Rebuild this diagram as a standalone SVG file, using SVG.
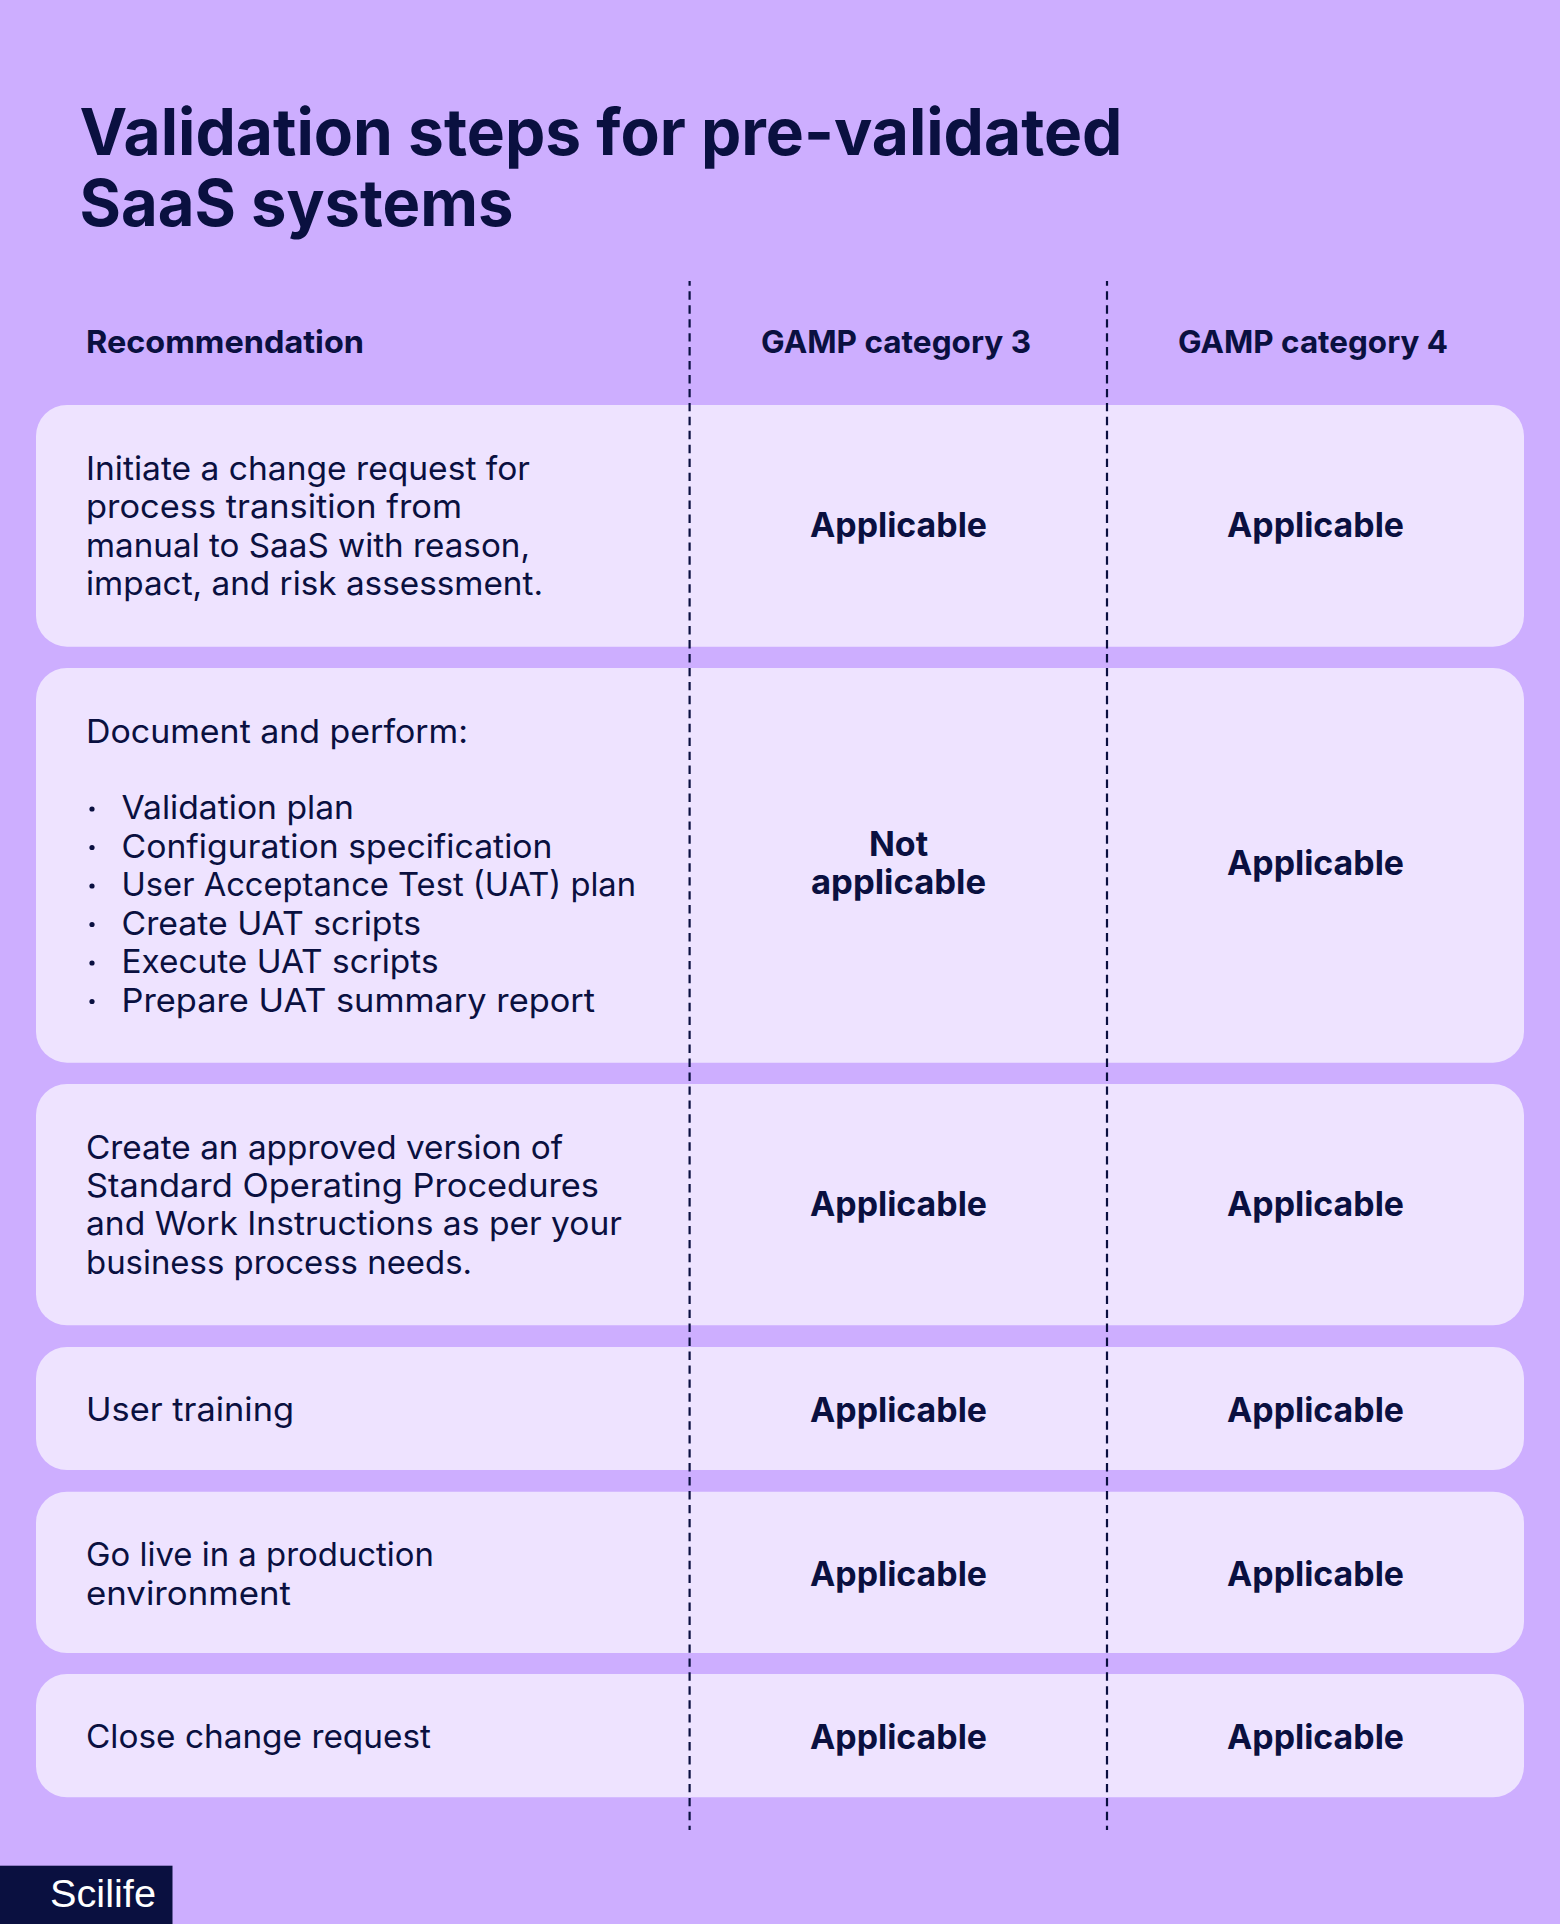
<svg xmlns="http://www.w3.org/2000/svg" width="1560" height="1924" viewBox="0 0 1560 1924">
<style>
text{font-family:"Inter","Liberation Sans",sans-serif;fill:#0a1040}
.t{font-size:65px;font-weight:700}
.h{font-size:31.5px;font-weight:700}
.b{font-size:33px;font-weight:400}
.a{font-size:34px;font-weight:700}
.card{fill:#eee3ff}
.dot{fill:#0a1040}
.div{stroke:#0a1040;stroke-width:2.2;stroke-dasharray:8.4 5.55;stroke-dashoffset:3.65;fill:none}
</style>
<rect width="1560" height="1924" fill="#cdaeff"/>
<g id="title">
<text class="t"><tspan x="79.5" y="155" textLength="1043" lengthAdjust="spacingAndGlyphs">Validation steps for pre-validated</tspan><tspan x="79.5" y="226" textLength="434" lengthAdjust="spacingAndGlyphs">SaaS systems</tspan></text>
</g>
<g id="header">
<text class="h" x="86" y="353" textLength="278" lengthAdjust="spacingAndGlyphs">Recommendation</text>
<text class="h" x="761" y="353" textLength="270" lengthAdjust="spacingAndGlyphs">GAMP category 3</text>
<text class="h" x="1178" y="353" textLength="270" lengthAdjust="spacingAndGlyphs">GAMP category 4</text>
</g>
<g id="row1">
<rect class="card" x="36" y="405" width="1488" height="241.7" rx="31"/>
<text class="b" x="86" y="480" textLength="444" lengthAdjust="spacingAndGlyphs">Initiate a change request for</text>
<text class="b" x="86" y="518.3" textLength="376" lengthAdjust="spacingAndGlyphs">process transition from</text>
<text class="b" x="86" y="556.5" textLength="444" lengthAdjust="spacingAndGlyphs">manual to SaaS with reason,</text>
<text class="b" x="86" y="594.7" textLength="457" lengthAdjust="spacingAndGlyphs">impact, and risk assessment.</text>
<text class="a" x="810" y="537" textLength="177" lengthAdjust="spacingAndGlyphs">Applicable</text>
<text class="a" x="1227" y="537" textLength="177" lengthAdjust="spacingAndGlyphs">Applicable</text>
</g>
<g id="row2">
<rect class="card" x="36" y="668" width="1488" height="394.7" rx="31"/>
<text class="b" x="86" y="742.7" textLength="382" lengthAdjust="spacingAndGlyphs">Document and perform:</text>
<circle class="dot" cx="92" cy="809" r="2.6"/>
<circle class="dot" cx="92" cy="847.5" r="2.6"/>
<circle class="dot" cx="92" cy="886" r="2.6"/>
<circle class="dot" cx="92" cy="924.5" r="2.6"/>
<circle class="dot" cx="92" cy="963" r="2.6"/>
<circle class="dot" cx="92" cy="1001.5" r="2.6"/>
<text class="b" x="121.5" y="819.3" textLength="232.5" lengthAdjust="spacingAndGlyphs">Validation plan</text>
<text class="b" x="121.5" y="857.7" textLength="431" lengthAdjust="spacingAndGlyphs">Configuration specification</text>
<text class="b" x="121.5" y="896" textLength="514.5" lengthAdjust="spacingAndGlyphs">User Acceptance Test (UAT) plan</text>
<text class="b" x="121.5" y="934.5" textLength="299.5" lengthAdjust="spacingAndGlyphs">Create UAT scripts</text>
<text class="b" x="121.5" y="973" textLength="317" lengthAdjust="spacingAndGlyphs">Execute UAT scripts</text>
<text class="b" x="121.5" y="1011.5" textLength="473.5" lengthAdjust="spacingAndGlyphs">Prepare UAT summary report</text>
<text class="a" x="898.5" y="855.5" text-anchor="middle">Not</text>
<text class="a" x="811" y="894" textLength="175" lengthAdjust="spacingAndGlyphs">applicable</text>
<text class="a" x="1227" y="875" textLength="177" lengthAdjust="spacingAndGlyphs">Applicable</text>
</g>
<g id="row3">
<rect class="card" x="36" y="1084" width="1488" height="241.3" rx="31"/>
<text class="b" x="86" y="1158.8" textLength="477" lengthAdjust="spacingAndGlyphs">Create an approved version of</text>
<text class="b" x="86" y="1197" textLength="513" lengthAdjust="spacingAndGlyphs">Standard Operating Procedures</text>
<text class="b" x="86" y="1235.3" textLength="536" lengthAdjust="spacingAndGlyphs">and Work Instructions as per your</text>
<text class="b" x="86" y="1273.6" textLength="386" lengthAdjust="spacingAndGlyphs">business process needs.</text>
<text class="a" x="810" y="1216" textLength="177" lengthAdjust="spacingAndGlyphs">Applicable</text>
<text class="a" x="1227" y="1216" textLength="177" lengthAdjust="spacingAndGlyphs">Applicable</text>
</g>
<g id="row4">
<rect class="card" x="36" y="1347" width="1488" height="123" rx="31"/>
<text class="b" x="86" y="1421.3" textLength="208" lengthAdjust="spacingAndGlyphs">User training</text>
<text class="a" x="810" y="1422" textLength="177" lengthAdjust="spacingAndGlyphs">Applicable</text>
<text class="a" x="1227" y="1422" textLength="177" lengthAdjust="spacingAndGlyphs">Applicable</text>
</g>
<g id="row5">
<rect class="card" x="36" y="1491.7" width="1488" height="161.3" rx="31"/>
<text class="b" x="86" y="1566.4" textLength="348" lengthAdjust="spacingAndGlyphs">Go live in a production</text>
<text class="b" x="86" y="1604.6" textLength="205" lengthAdjust="spacingAndGlyphs">environment</text>
<text class="a" x="810" y="1586" textLength="177" lengthAdjust="spacingAndGlyphs">Applicable</text>
<text class="a" x="1227" y="1586" textLength="177" lengthAdjust="spacingAndGlyphs">Applicable</text>
</g>
<g id="row6">
<rect class="card" x="36" y="1674" width="1488" height="123.3" rx="31"/>
<text class="b" x="86" y="1748" textLength="345" lengthAdjust="spacingAndGlyphs">Close change request</text>
<text class="a" x="810" y="1749" textLength="177" lengthAdjust="spacingAndGlyphs">Applicable</text>
<text class="a" x="1227" y="1749" textLength="177" lengthAdjust="spacingAndGlyphs">Applicable</text>
</g>
<g id="connectors">
<line class="div" x1="689.6" y1="281" x2="689.6" y2="1830"/>
<line class="div" x1="1107" y1="281" x2="1107" y2="1830"/>
</g>
<g id="logo">
<rect x="0" y="1865.7" width="172.5" height="58.3" fill="#0a1040"/>
<text x="50" y="1906.7" font-size="39" textLength="106" lengthAdjust="spacingAndGlyphs" style="font-family:'Liberation Sans',sans-serif;fill:#fff">Scilife</text>
</g>
</svg>
